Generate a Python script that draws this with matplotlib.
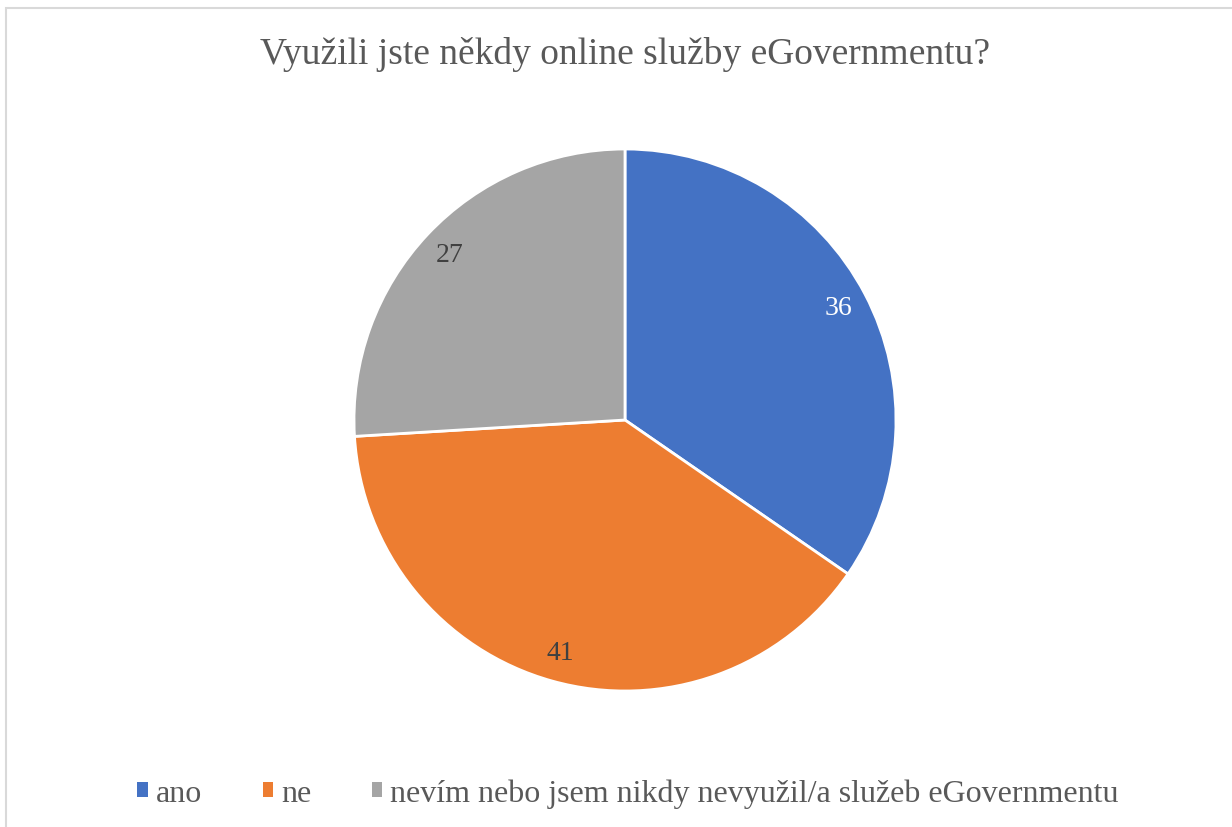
import matplotlib
matplotlib.use("Agg")
import matplotlib.pyplot as plt
from matplotlib.patches import Rectangle, Patch

categories = ["ano", "ne", "nevím nebo jsem nikdy nevyužil/a služeb eGovernmentu"]
values = [36, 41, 27]
colors = ["#4472C4", "#ED7D31", "#A5A5A5"]
label_colors = ["white", "#404040", "#404040"]
title = "Využili jste někdy online služby eGovernmentu?"

plt.rcParams['font.family'] = ['Liberation Serif', 'DejaVu Serif']

W, H = 1232, 828
fig = plt.figure(figsize=(W / 100, H / 100), dpi=100)
fig.patch.set_facecolor("white")

# outer chart border
fig.add_artist(Rectangle((6 / W, -0.01), 1.5, (H - 9) / H + 0.01, transform=fig.transFigure,
                         fill=False, edgecolor="#D9D9D9", linewidth=1.5))

cx, cy, r = 625, 421, 271
ax = fig.add_axes([(cx - r) / W, (H - cy - r) / H, 2 * r / W, 2 * r / H])
wedges, texts, autotexts = ax.pie(values, colors=colors, startangle=90, counterclock=False,
                                  radius=1, autopct=lambda p: f"{p * sum(values) / 100:.0f}",
                                  pctdistance=0.89,
                                  wedgeprops=dict(edgecolor="white", linewidth=2))
for t, c in zip(autotexts, label_colors):
    t.set_color(c)
    t.set_fontsize(20)
ax.set_xlim(-1, 1)
ax.set_ylim(-1, 1)
ax.set_aspect("equal")
ax.axis("off")

fig.text(cx / W, 1 - 55 / H, title, ha="center", va="center", fontsize=27, color="#595959")

handles = [Patch(facecolor=c, edgecolor="none") for c in colors]
fig.legend(handles, categories, loc="center", bbox_to_anchor=(628 / W, 1 - 794 / H), ncol=3,
           frameon=False, fontsize=23, labelcolor="#595959", handlelength=0.32, handleheight=0.32,
           handletextpad=0.25, columnspacing=1.9)

fig.savefig("out.png", dpi=100)
